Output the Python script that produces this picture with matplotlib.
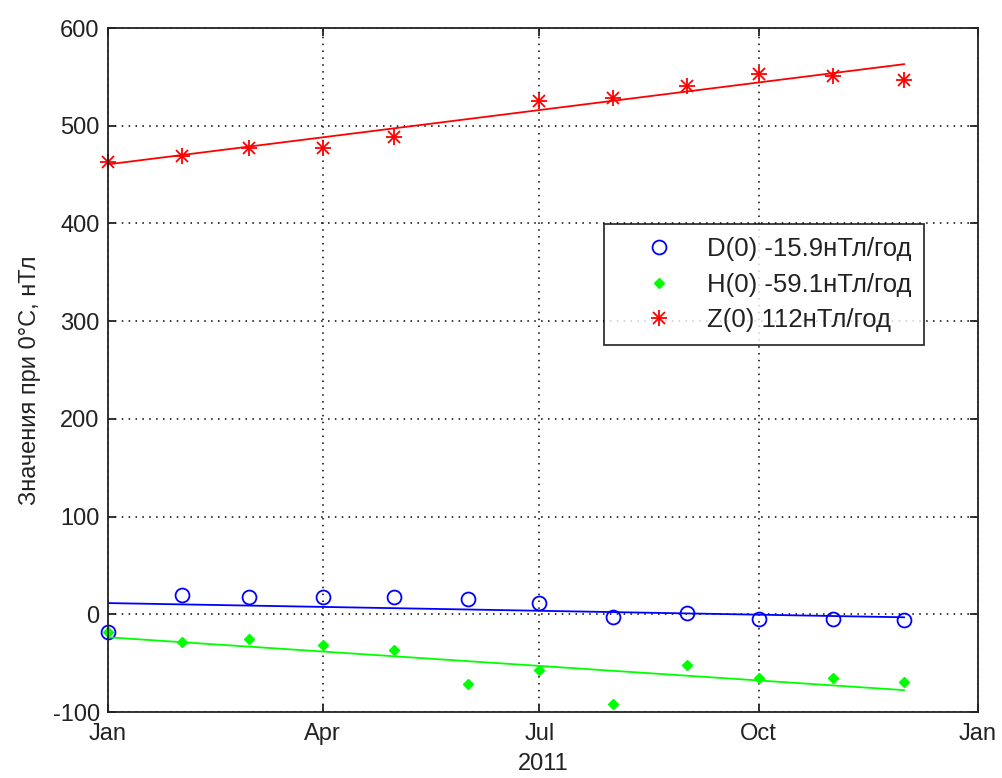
import datetime as dt
import matplotlib
matplotlib.use("Agg")
import matplotlib.pyplot as plt
import matplotlib.dates as mdates
import numpy as np
from matplotlib.legend_handler import HandlerTuple

plt.rcParams['font.family'] = ['Liberation Sans', 'DejaVu Sans']
plt.rcParams['axes.unicode_minus'] = False

# месяцы измерений (1-е число каждого месяца 2011 г.)
months = [dt.date(2011, m, 1) for m in range(1, 13)]

# значения при 0°C, нТл (Z за июнь отсутствует)
d_vals = [-18.5, 20.2, 18.2, 18.2, 18.2, 15.2, 11.9, -2.7, 1.7, -4.3, -5.0, -5.4]
h_vals = [-18.5, -28.7, -25.0, -31.1, -36.8, -71.6, -57.0, -91.9, -51.4, -65.1, -65.1, -69.6]
z_vals = [463.0, 469.0, 477.6, 477.6, 488.0, np.nan, 525.0, 528.6, 540.8, 553.4, 550.7, 547.3]

# линейные тренды: значение на 1 января и наклон, нТл/год
trend_start = [11.5, -23.5, 460.5]
trend_slope = [-15.9, -59.1, 112.0]
labels = ['D(0) -15.9нТл/год', 'H(0) -59.1нТл/год', 'Z(0) 112нТл/год']

fig = plt.figure(figsize=(10.03, 7.78), dpi=100)
ax = fig.add_axes([0.1077, 0.0848, 0.8673, 0.8792])

years = np.array([(m - months[0]).days / 365.0 for m in months])
xd = mdates.date2num(months)

hd, = ax.plot(xd, d_vals, 'o', mfc='none', mec='#0000ff', ms=10, mew=1.3, ls='none', clip_on=False)
hh, = ax.plot(xd, h_vals, 'D', color='#00ff00', ms=5, ls='none', clip_on=False)
hz1, = ax.plot(xd, z_vals, '+', color='#ff0000', ms=12, mew=1.3, ls='none', clip_on=False)
hz2, = ax.plot(xd, z_vals, 'x', color='#ff0000', ms=8, mew=1.3, ls='none', clip_on=False)

for c0, k, col in zip(trend_start, trend_slope, ['#0000ff', '#00ff00', '#ff0000']):
    ax.plot(xd, c0 + k * years, '-', color=col, lw=1.3)

ax.set_xlim(mdates.date2num(dt.date(2011, 1, 1)), mdates.date2num(dt.date(2012, 1, 1)))
ax.set_ylim(-100, 600)
ax.set_yticks(range(-100, 601, 100))
ax.xaxis.set_major_locator(mdates.MonthLocator(bymonth=[1, 4, 7, 10]))
ax.xaxis.set_major_formatter(mdates.DateFormatter('%b'))

ax.grid(True, ls=(0, (1, 3.5)), color='black', lw=1.1)
ax.tick_params(direction='in', top=True, right=True, length=6, width=1.3,
               labelsize=17, colors='#222222', pad=6)
ax.tick_params(axis='x', pad=8)
for s in ax.spines.values():
    s.set_linewidth(1.3)
    s.set_color('#222222')

ax.set_ylabel('Значения при 0°С, нТл', fontsize=17, color='#222222')
ax.yaxis.set_label_coords(-0.077, 0.485)
ax.set_xlabel('2011', fontsize=17, color='#222222', labelpad=6)

leg = ax.legend([hd, hh, (hz1, hz2)], labels, loc='upper left',
                bbox_to_anchor=(0.570, 0.713), borderaxespad=0, fontsize=18.5,
                frameon=True, fancybox=False, edgecolor='black', handlelength=3.3,
                handletextpad=0.2, borderpad=0.5, labelspacing=0.45,
                handler_map={tuple: HandlerTuple(ndivide=1)})
leg.get_frame().set_linewidth(1.3)
for t in leg.get_texts():
    t.set_color('#222222')

fig.savefig('out.png', dpi=100)
